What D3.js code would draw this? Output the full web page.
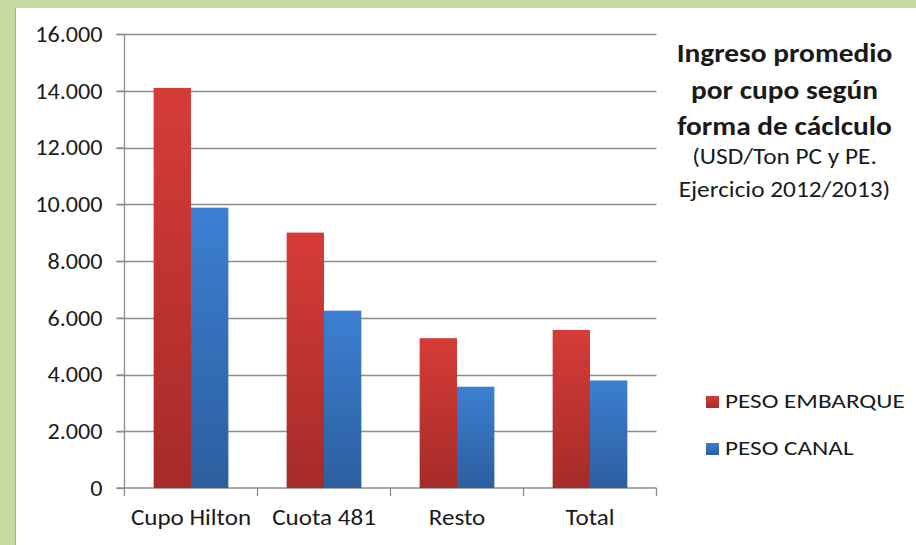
<!DOCTYPE html>
<html><head><meta charset="utf-8">
<script src="https://cdn.jsdelivr.net/npm/d3@7"></script>
<style>html,body{margin:0;padding:0;background:#c5db9f;}svg{display:block;}</style>
</head><body>
<svg id="c" width="916" height="545"></svg>
<script>
const categories = ["Cupo Hilton", "Cuota 481", "Resto", "Total"];
const seriesNames = ["PESO EMBARQUE", "PESO CANAL"];
const pesoEmbarque = [14100, 9000, 5280, 5570];
const pesoCanal = [9880, 6250, 3570, 3790];
const yTicks = [0, 2000, 4000, 6000, 8000, 10000, 12000, 14000, 16000];
const titleLines = ["Ingreso promedio", "por cupo según", "forma de cáclculo"];
const subtitleLines = ["(USD/Ton PC y PE.", "Ejercicio 2012/2013)"];

(function(){
const svg = d3.select("#c");
const font = "Carlito, 'Liberation Sans Narrow', 'Open Sans', sans-serif";
function stretch(sel, k){
  sel.each(function(){
    const w = this.getComputedTextLength();
    d3.select(this).attr("textLength", w*k).attr("lengthAdjust","spacingAndGlyphs");
  });
}
svg.append("rect").attr("x",0).attr("y",0).attr("width",916).attr("height",545).attr("fill","#c5db9f");
svg.append("rect").attr("x",15).attr("y",8).attr("width",901).attr("height",537).attr("fill","#ffffff");
svg.append("line").attr("x1",15.5).attr("x2",15.5).attr("y1",8).attr("y2",545).attr("stroke","#9fb57a").attr("stroke-width",1);

const defs = svg.append("defs");
const gr = defs.append("linearGradient").attr("id","gRed").attr("x1",0).attr("x2",0).attr("y1",0).attr("y2",1);
gr.append("stop").attr("offset","0%").attr("stop-color","#d63c37");
gr.append("stop").attr("offset","100%").attr("stop-color","#a52b29");
const gb = defs.append("linearGradient").attr("id","gBlue").attr("x1",0).attr("x2",0).attr("y1",0).attr("y2",1);
gb.append("stop").attr("offset","0%").attr("stop-color","#3c7fd1");
gb.append("stop").attr("offset","100%").attr("stop-color","#2c5f9f");

const pLeft = 124.5, pRight = 656.5, pTop = 34, pBottom = 488;
const x = d3.scaleBand().domain(categories).range([pLeft, pRight]).paddingInner(0).paddingOuter(0);
const x1 = d3.scaleBand().domain(seriesNames).range([0, x.bandwidth()]).paddingInner(0).paddingOuter(0.78);
const y = d3.scaleLinear().domain([0, 16000]).range([pBottom, pTop]);

svg.append("g").selectAll("line").data(yTicks.filter(d=>d>0)).join("line")
  .attr("x1", pLeft-8).attr("x2", pRight).attr("y1", d=>Math.round(y(d))+0.5).attr("y2", d=>Math.round(y(d))+0.5)
  .attr("stroke","#8c8c8c").attr("stroke-width",1.3);

const yAxis = svg.append("g").attr("transform",`translate(${pLeft},0)`)
  .call(d3.axisLeft(y).tickValues(yTicks).tickSize(8).tickPadding(14).tickFormat(d=>d3.format(",")(d).replace(/,/g,".")));
yAxis.select(".domain").attr("stroke","#8c8c8c").attr("stroke-width",1.3).attr("d",`M0,${pTop}V${pBottom}`);
yAxis.selectAll(".tick line").attr("stroke","#8c8c8c").attr("stroke-width",1.3);
yAxis.selectAll("text").attr("font-family",font).attr("font-size",23).attr("fill","#1a1a1a");
stretch(yAxis.selectAll("text"), 1.05);

const xAxis = svg.append("g").attr("transform",`translate(0,${pBottom})`)
  .call(d3.axisBottom(x).tickSize(0).tickPadding(21));
xAxis.select(".domain").attr("stroke","#8c8c8c").attr("stroke-width",1.3).attr("d",`M${pLeft-8},0H${pRight}`);
xAxis.selectAll("text").attr("font-family",font).attr("font-size",23).attr("fill","#1a1a1a");
stretch(xAxis.selectAll("text"), 1.09);
const bounds = x.domain().map(d=>x(d)).concat([pRight]);
svg.append("g").selectAll("line").data(bounds).join("line")
  .attr("x1",d=>d).attr("x2",d=>d).attr("y1",pBottom).attr("y2",pBottom+8)
  .attr("stroke","#8c8c8c").attr("stroke-width",1.3);

const data = categories.map((c,i)=>({c, vals:[{s:seriesNames[0],v:pesoEmbarque[i],f:"url(#gRed)"},{s:seriesNames[1],v:pesoCanal[i],f:"url(#gBlue)"}]}));
svg.append("g").selectAll("g").data(data).join("g")
  .attr("transform",d=>`translate(${x(d.c)},0)`)
  .selectAll("rect").data(d=>d.vals).join("rect")
  .attr("x",d=>x1(d.s)).attr("width",x1.bandwidth())
  .attr("y",d=>y(d.v)).attr("height",d=>y(0)-y(d.v)).attr("fill",d=>d.f);

const tg = svg.append("g").attr("text-anchor","middle").attr("font-family",font).attr("fill","#1a1a1a");
titleLines.forEach((t,i)=>{
  const el = tg.append("text").attr("x",784.5).attr("y",62+i*36.5).attr("font-size",26).attr("font-weight","bold").text(t);
  stretch(el, 1.13);
});
subtitleLines.forEach((t,i)=>{
  const el = tg.append("text").attr("x",784.5).attr("y",164+i*33).attr("font-size",22).text(t);
  stretch(el, 1.15);
});

const lg = svg.append("g").attr("font-family",font);
const colors = ["url(#gRed)","url(#gBlue)"];
seriesNames.forEach((s,i)=>{
  const yy = 401 + i*47;
  lg.append("rect").attr("x",706).attr("y",yy-5).attr("width",13).attr("height",12).attr("fill",colors[i]);
  const el = lg.append("text").attr("x",725).attr("y",yy+7).attr("font-size",21).attr("fill","#1a1a1a").text(s);
  stretch(el, 1.2);
});
})();
</script>
</body></html>
